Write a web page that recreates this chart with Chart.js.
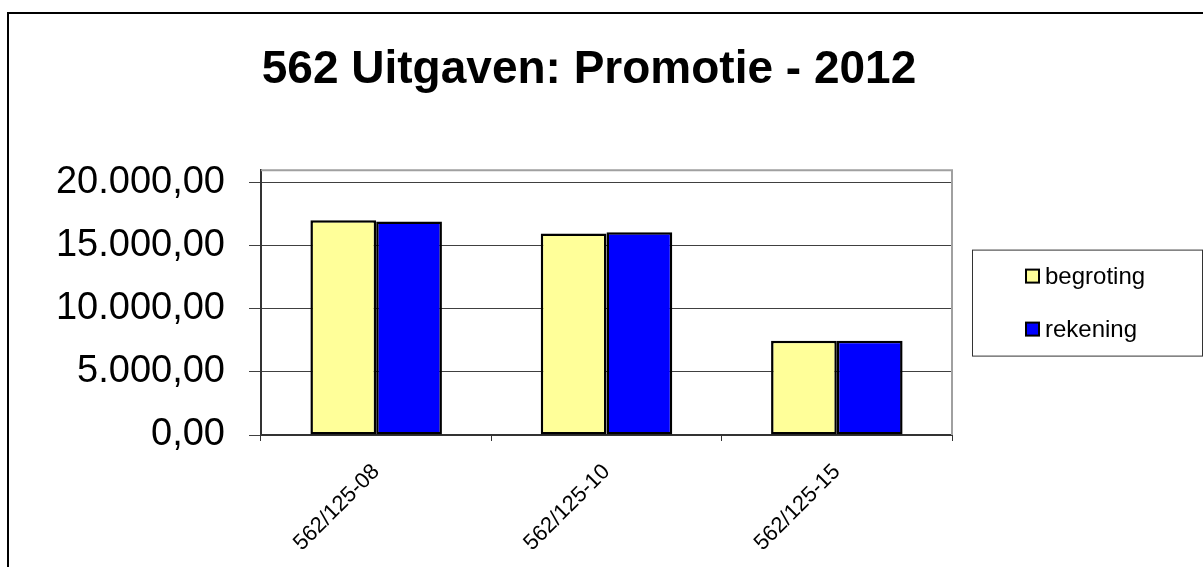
<!DOCTYPE html>
<html>
<head>
<meta charset="utf-8">
<script src="https://cdn.jsdelivr.net/npm/chart.js@4/dist/chart.umd.min.js"></script>
<style>
  html, body { margin: 0; padding: 0; background: #fff; }
  #wrap { position: relative; width: 1203px; height: 567px; }
</style>
</head>
<body>
<div id="wrap"><canvas id="grafiek" width="1203" height="567"></canvas></div>
<script>
// gegevens uit de grafiek
const categorieen = ["562/125-08", "562/125-10", "562/125-15"];
const begroting = [17000, 15950, 7450];
const rekening = [16900, 16050, 7450];
const yTicks = [0, 5000, 10000, 15000, 20000];

// 20000 -> "20.000,00"
function nlFormat(v) {
  const heel = Math.round(v).toString().replace(/\B(?=(\d{3})+(?!\d))/g, ".");
  return heel + ",00";
}

// rand om de hele grafiek + rand om het plotgebied + legenda
const kaderPlugin = {
  id: "kader",
  beforeDraw(chart) {
    const ctx = chart.ctx;
    ctx.save();
    ctx.fillStyle = "#fff";
    ctx.fillRect(0, 0, chart.width, chart.height);
    ctx.restore();
  },
  beforeDatasetsDraw(chart) {
    const { ctx, chartArea } = chart;
    ctx.save();
    ctx.strokeStyle = "#a0a0a0";
    ctx.lineWidth = 2;
    ctx.beginPath();
    ctx.moveTo(chartArea.left, chartArea.top);
    ctx.lineTo(chartArea.right, chartArea.top);
    ctx.lineTo(chartArea.right, chartArea.bottom);
    ctx.stroke();
    ctx.restore();
  },
  afterDraw(chart) {
    const { ctx, chartArea } = chart;
    ctx.save();
    // buitenrand
    ctx.strokeStyle = "#000";
    ctx.lineWidth = 2;
    ctx.strokeRect(8, 13, chart.width + 20, chart.height + 20);

    // legenda
    const bx = chartArea.right + 20;
    const bw = 230;
    const bh = 106;
    const midden = (chartArea.top + chartArea.bottom) / 2;
    const by = midden - bh / 2;
    ctx.lineWidth = 1;
    ctx.strokeStyle = "#333";
    ctx.strokeRect(bx + 0.5, by + 0.5, bw, bh);

    ctx.font = "24px 'Liberation Sans', Arial, sans-serif";
    ctx.textBaseline = "middle";
    ctx.textAlign = "left";
    chart.data.datasets.forEach((ds, i) => {
      const y = midden + (i === 0 ? -26.5 : 26.5);
      const sx = bx + 54;
      ctx.fillStyle = ds.backgroundColor;
      ctx.fillRect(sx, y - 6.5, 13, 13);
      ctx.strokeStyle = "#000";
      ctx.lineWidth = 2;
      ctx.strokeRect(sx, y - 6.5, 13, 13);
      ctx.fillStyle = "#000";
      ctx.fillText(ds.label, sx + 19, y + 1);
    });
    ctx.restore();
  },
};

const data = {
  labels: categorieen,
  datasets: [
    {
      label: "begroting",
      data: begroting,
      backgroundColor: "#FFFF99",
      borderColor: "#000",
      borderWidth: 2.5,
      borderSkipped: false,
    },
    {
      label: "rekening",
      data: rekening,
      backgroundColor: "#0000FF",
      borderColor: "#000",
      borderWidth: 2.5,
      borderSkipped: false,
    },
  ],
};

const config = {
  type: "bar",
  data: data,
  options: {
    responsive: false,
    animation: false,
    events: [],
    layout: { padding: { left: 0, right: 25, top: 0, bottom: 0 } },
    datasets: {
      bar: { categoryPercentage: 0.571, barPercentage: 1 },
    },
    plugins: {
      legend: { display: false },
      tooltip: { enabled: false },
      title: {
        display: true,
        text: "562 Uitgaven: Promotie - 2012",
        color: "#000",
        font: { family: "'Liberation Sans', Arial, sans-serif", size: 46, weight: "bold", lineHeight: 1.2 },
        padding: { top: 43, bottom: 72 },
      },
    },
    scales: {
      x: {
        grid: {
          offset: true,
          drawOnChartArea: false,
          drawTicks: true,
          tickLength: 6,
          color: "#333",
          lineWidth: 1,
        },
        border: { display: true, color: "#333", width: 2 },
        ticks: {
          color: "#000",
          maxRotation: 45,
          minRotation: 45,
          padding: 18,
          font: { family: "'Liberation Sans', Arial, sans-serif", size: 22 },
        },
        afterFit(scale) {
          scale.height = 132;
        },
      },
      y: {
        min: 0,
        max: 20950,
        afterBuildTicks(scale) {
          scale.ticks = yTicks.map((v) => ({ value: v }));
        },
        grid: {
          color: "#404040",
          lineWidth: 1,
          drawTicks: true,
          tickLength: 12,
        },
        border: { display: true, color: "#333", width: 2 },
        ticks: {
          color: "#000",
          padding: 24,
          font: { family: "'Liberation Sans', Arial, sans-serif", size: 38 },
          callback: (v) => nlFormat(v),
        },
        afterFit(scale) {
          scale.width = 261;
        },
      },
      ruimte: {
        type: "linear",
        position: "right",
        display: true,
        grid: { display: false, drawTicks: false },
        border: { display: false },
        ticks: { display: false },
        afterFit(scale) {
          scale.width = 226;
        },
      },
    },
  },
  plugins: [kaderPlugin],
};

const grafiek = new Chart(document.getElementById("grafiek"), config);
</script>
</body>
</html>
